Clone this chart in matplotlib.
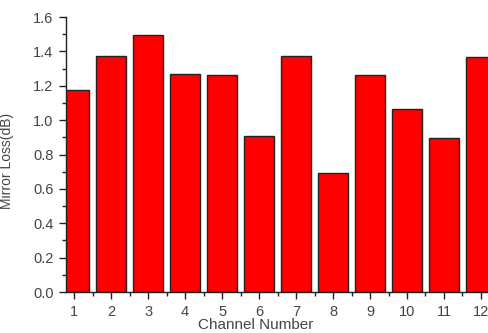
import matplotlib
matplotlib.use("Agg")
import matplotlib.pyplot as plt
from matplotlib.ticker import MultipleLocator

channels = [1, 2, 3, 4, 5, 6, 7, 8, 9, 10, 11, 12]
mirror_loss = [1.175, 1.373, 1.493, 1.270, 1.264, 0.907, 1.373, 0.694, 1.262, 1.065, 0.896, 1.365]

plt.rcParams["font.family"] = ["Liberation Sans", "DejaVu Sans"]
text_color = "#444444"

fig = plt.figure(figsize=(4.88, 3.33), dpi=100)
ax = fig.add_axes([0.1352, 0.1231, 0.8648, 0.8258])

ax.bar(channels, mirror_loss, width=0.81, color="#ff0000",
       edgecolor="#222222", linewidth=1.0, zorder=2)

ax.set_xlim(0.78, 12.19)
ax.set_ylim(0, 1.6)

ax.xaxis.set_major_locator(MultipleLocator(1))
ax.xaxis.set_minor_locator(MultipleLocator(0.5))
ax.yaxis.set_major_locator(MultipleLocator(0.2))
ax.yaxis.set_minor_locator(MultipleLocator(0.1))
ax.yaxis.set_major_formatter(plt.FormatStrFormatter("%.1f"))

for side in ["top", "right"]:
    ax.spines[side].set_visible(False)
for side in ["left", "bottom"]:
    ax.spines[side].set_color("#222222")
    ax.spines[side].set_linewidth(1.0)

ax.tick_params(which="major", length=5, width=1, color="#222222",
               labelsize=10.5, labelcolor=text_color, pad=4)
ax.tick_params(which="minor", length=3, width=1, color="#222222")

ax.set_ylabel("Mirror Loss(dB)", fontsize=10, color=text_color)
ax.yaxis.set_label_coords(-0.122, 0.475)
ax.set_xlabel("Channel Number", fontsize=11, color=text_color)
ax.xaxis.set_label_coords(0.45, -0.093)

fig.savefig("out.png", dpi=100)
